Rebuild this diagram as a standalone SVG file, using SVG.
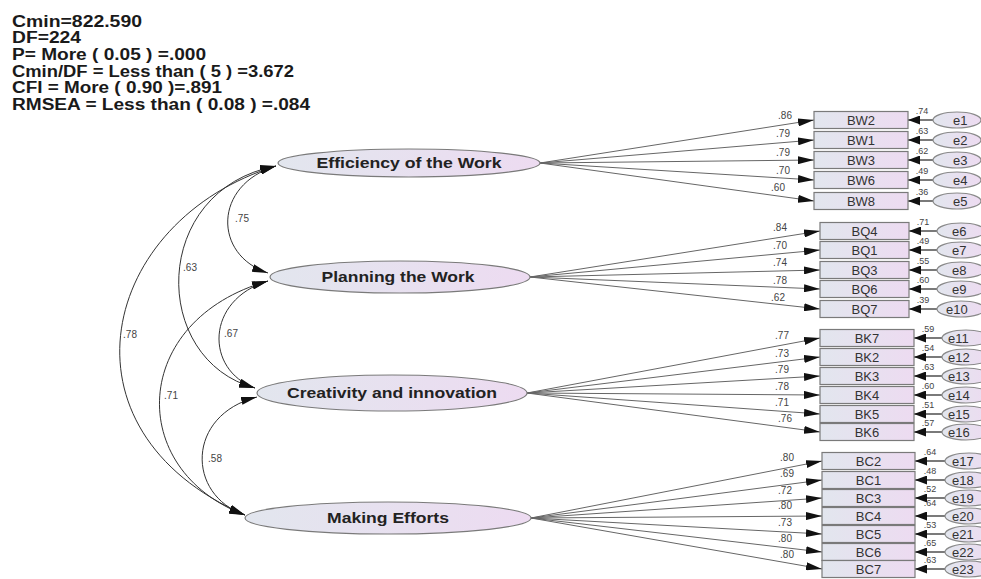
<svg xmlns="http://www.w3.org/2000/svg" width="981" height="579" viewBox="0 0 981 579">
<defs>
<linearGradient id="g" x1="0" y1="0" x2="1" y2="0">
<stop offset="0" stop-color="#e2e6ee"/>
<stop offset="1" stop-color="#eddbf1"/>
</linearGradient>
<marker id="ah" viewBox="0 0 16 8" refX="16" refY="4" markerWidth="16" markerHeight="8" markerUnits="userSpaceOnUse" orient="auto-start-reverse">
<path d="M0,0 L16,4 L0,8 z" fill="#111"/>
</marker>
<marker id="eh" viewBox="0 0 12 9" refX="12" refY="4.5" markerWidth="12" markerHeight="9" markerUnits="userSpaceOnUse" orient="auto">
<path d="M0,0 L12,4.5 L0,9 z" fill="#111"/>
</marker>
<style>
.lat{fill:url(#g);stroke:#7a7a7a;stroke-width:1.2}
.box{fill:url(#g);stroke:#7a7a7a;stroke-width:1.2}
.err{fill:url(#g);stroke:#8a8a8a;stroke-width:1.2}
.lt{font-family:"Liberation Sans",Arial,sans-serif;font-weight:bold;font-size:15px;fill:#222;text-anchor:middle}
.bt{font-family:"Liberation Sans",Arial,sans-serif;font-size:13px;fill:#333;text-anchor:middle}
.et{font-family:"Liberation Sans",Arial,sans-serif;font-size:13px;fill:#333}
.st{font-family:"Liberation Sans",Arial,sans-serif;font-weight:bold;font-size:16px;fill:#1a1a1a}
.lb{font-family:"Liberation Sans",Arial,sans-serif;font-size:10px;fill:#444;text-anchor:middle}
.el{font-family:"Liberation Sans",Arial,sans-serif;font-size:9px;fill:#444;text-anchor:middle}
.fan{stroke:#666;stroke-width:1;fill:none;marker-end:url(#ah)}
.cov{stroke:#333;stroke-width:1;fill:none;marker-start:url(#ah);marker-end:url(#ah)}
.ea{stroke:#222;stroke-width:1.2;fill:none;marker-end:url(#eh)}
</style>
</defs>

<g id="stats">
<text class="st" x="12" y="26.5" textLength="130" lengthAdjust="spacingAndGlyphs">Cmin=822.590</text>
<text class="st" x="12" y="43.2" textLength="69" lengthAdjust="spacingAndGlyphs">DF=224</text>
<text class="st" x="12" y="59.9" textLength="194" lengthAdjust="spacingAndGlyphs">P= More ( 0.05 ) =.000</text>
<text class="st" x="12" y="76.6" textLength="282" lengthAdjust="spacingAndGlyphs">Cmin/DF = Less than ( 5 ) =3.672</text>
<text class="st" x="12" y="93.3" textLength="210" lengthAdjust="spacingAndGlyphs">CFI = More ( 0.90 )=.891</text>
<text class="st" x="12" y="110" textLength="298" lengthAdjust="spacingAndGlyphs">RMSEA = Less than ( 0.08 ) =.084</text>
</g>

<g id="connectors">
<path class="cov" d="M276,166 C213,185 213,255 268,273"/>
<path class="cov" d="M276,166 C150,190 150,360 255,388"/>
<path class="cov" d="M276,166 C100,220 50,430 245,515"/>
<path class="cov" d="M268,281 C205,300 205,370 255,388"/>
<path class="cov" d="M268,281 C130,320 125,470 245,515"/>
<path class="cov" d="M257,397 C186,415 186,495 245,515"/>
<path class="fan" d="M540,163 L814,120"/>
<path class="fan" d="M540,163 L814,140"/>
<path class="fan" d="M540,163 L814,160"/>
<path class="fan" d="M540,163 L814,180"/>
<path class="fan" d="M540,163 L814,201"/>
<path class="fan" d="M530,277 L820,231"/>
<path class="fan" d="M530,277 L820,250"/>
<path class="fan" d="M530,277 L820,270"/>
<path class="fan" d="M530,277 L820,289"/>
<path class="fan" d="M530,277 L820,309"/>
<path class="fan" d="M527,393 L820,338"/>
<path class="fan" d="M527,393 L820,357"/>
<path class="fan" d="M527,393 L820,376"/>
<path class="fan" d="M527,393 L820,395"/>
<path class="fan" d="M527,393 L820,414"/>
<path class="fan" d="M527,393 L820,432"/>
<path class="fan" d="M531,518 L822,461"/>
<path class="fan" d="M531,518 L822,480"/>
<path class="fan" d="M531,518 L822,498"/>
<path class="fan" d="M531,518 L822,516"/>
<path class="fan" d="M531,518 L822,534"/>
<path class="fan" d="M531,518 L822,552"/>
<path class="fan" d="M531,518 L822,569"/>
<path class="ea" d="M933,120 L908,120"/>
<path class="ea" d="M933,140 L908,140"/>
<path class="ea" d="M933,160 L908,160"/>
<path class="ea" d="M933,180 L908,180"/>
<path class="ea" d="M933,201 L908,201"/>
<path class="ea" d="M937,231 L909,231"/>
<path class="ea" d="M937,250 L909,250"/>
<path class="ea" d="M937,270 L909,270"/>
<path class="ea" d="M937,289 L909,289"/>
<path class="ea" d="M937,309 L909,309"/>
<path class="ea" d="M942,338 L914,338"/>
<path class="ea" d="M942,357 L914,357"/>
<path class="ea" d="M942,376 L914,376"/>
<path class="ea" d="M942,395 L914,395"/>
<path class="ea" d="M942,414 L914,414"/>
<path class="ea" d="M942,432 L914,432"/>
<path class="ea" d="M945,461 L915,461"/>
<path class="ea" d="M945,480 L915,480"/>
<path class="ea" d="M945,498 L915,498"/>
<path class="ea" d="M945,516 L915,516"/>
<path class="ea" d="M945,534 L915,534"/>
<path class="ea" d="M945,552 L915,552"/>
<path class="ea" d="M945,569 L915,569"/>
<text class="lb" x="242" y="222">.75</text>
<text class="lb" x="190" y="271">.63</text>
<text class="lb" x="130" y="338">.78</text>
<text class="lb" x="231" y="337">.67</text>
<text class="lb" x="171" y="399">.71</text>
<text class="lb" x="215" y="462">.58</text>
<text class="lb" x="785" y="118.5">.86</text>
<text class="lb" x="783" y="136.5">.79</text>
<text class="lb" x="783" y="155.5">.79</text>
<text class="lb" x="783" y="173.5">.70</text>
<text class="lb" x="778" y="190.5">.60</text>
<text class="lb" x="780" y="230.5">.84</text>
<text class="lb" x="780" y="248.5">.70</text>
<text class="lb" x="780" y="265.5">.74</text>
<text class="lb" x="780" y="283.5">.78</text>
<text class="lb" x="778" y="300.5">.62</text>
<text class="lb" x="782" y="338.5">.77</text>
<text class="lb" x="782" y="356.5">.73</text>
<text class="lb" x="782" y="372.5">.79</text>
<text class="lb" x="782" y="389.5">.78</text>
<text class="lb" x="782" y="405.5">.71</text>
<text class="lb" x="785" y="421.5">.76</text>
<text class="lb" x="787" y="460.5">.80</text>
<text class="lb" x="787" y="476.5">.69</text>
<text class="lb" x="785" y="493.5">.72</text>
<text class="lb" x="785" y="508.5">.80</text>
<text class="lb" x="785" y="525.5">.73</text>
<text class="lb" x="785" y="541.5">.80</text>
<text class="lb" x="787" y="557.5">.80</text>
<text class="el" x="922" y="113.5">.74</text>
<text class="el" x="922" y="133.5">.63</text>
<text class="el" x="922" y="153.5">.62</text>
<text class="el" x="922" y="173.5">.49</text>
<text class="el" x="922" y="194.5">.36</text>
<text class="el" x="923" y="224.5">.71</text>
<text class="el" x="923" y="243.5">.49</text>
<text class="el" x="923" y="263.5">.55</text>
<text class="el" x="923" y="282.5">.60</text>
<text class="el" x="923" y="302.5">.39</text>
<text class="el" x="928" y="331.5">.59</text>
<text class="el" x="928" y="350.5">.54</text>
<text class="el" x="928" y="369.5">.63</text>
<text class="el" x="928" y="388.5">.60</text>
<text class="el" x="928" y="407.5">.51</text>
<text class="el" x="928" y="425.5">.57</text>
<text class="el" x="930" y="454.5">.64</text>
<text class="el" x="930" y="473.5">.48</text>
<text class="el" x="930" y="491.5">.52</text>
<text class="el" x="930" y="506">.64</text>
<text class="el" x="930" y="527.5">.53</text>
<text class="el" x="930" y="545.5">.65</text>
<text class="el" x="930" y="562.5">.63</text>
</g>

<g id="eff">
<ellipse class="lat" cx="409" cy="163" rx="131" ry="14"/>
<text class="lt" x="409" y="168" textLength="185" lengthAdjust="spacingAndGlyphs">Efficiency of the Work</text>
</g>
<g id="plan">
<ellipse class="lat" cx="400" cy="277" rx="130" ry="16"/>
<text class="lt" x="398" y="282" textLength="153" lengthAdjust="spacingAndGlyphs">Planning the Work</text>
</g>
<g id="crea">
<ellipse class="lat" cx="392" cy="393" rx="135" ry="18"/>
<text class="lt" x="392" y="398" textLength="210" lengthAdjust="spacingAndGlyphs">Creativity and innovation</text>
</g>
<g id="make">
<ellipse class="lat" cx="388" cy="518" rx="143" ry="16"/>
<text class="lt" x="388" y="523" textLength="122" lengthAdjust="spacingAndGlyphs">Making Efforts</text>
</g>

<g id="BW2"><rect class="box" x="814" y="111.5" width="94" height="17"/><text class="bt" x="861" y="124.5">BW2</text></g>
<g id="BW1"><rect class="box" x="814" y="131.5" width="94" height="17"/><text class="bt" x="861" y="144.5">BW1</text></g>
<g id="BW3"><rect class="box" x="814" y="151.5" width="94" height="17"/><text class="bt" x="861" y="164.5">BW3</text></g>
<g id="BW6"><rect class="box" x="814" y="171.5" width="94" height="17"/><text class="bt" x="861" y="184.5">BW6</text></g>
<g id="BW8"><rect class="box" x="814" y="192.5" width="94" height="17"/><text class="bt" x="861" y="205.5">BW8</text></g>

<g id="BQ4"><rect class="box" x="820" y="222.5" width="89" height="17"/><text class="bt" x="864.5" y="235.5">BQ4</text></g>
<g id="BQ1"><rect class="box" x="820" y="241.5" width="89" height="17"/><text class="bt" x="864.5" y="254.5">BQ1</text></g>
<g id="BQ3"><rect class="box" x="820" y="261.5" width="89" height="17"/><text class="bt" x="864.5" y="274.5">BQ3</text></g>
<g id="BQ6"><rect class="box" x="820" y="280.5" width="89" height="17"/><text class="bt" x="864.5" y="293.5">BQ6</text></g>
<g id="BQ7"><rect class="box" x="820" y="300.5" width="89" height="17"/><text class="bt" x="864.5" y="313.5">BQ7</text></g>

<g id="BK7"><rect class="box" x="820" y="329.5" width="94" height="17"/><text class="bt" x="867" y="342.5">BK7</text></g>
<g id="BK2"><rect class="box" x="820" y="348.5" width="94" height="17"/><text class="bt" x="867" y="361.5">BK2</text></g>
<g id="BK3"><rect class="box" x="820" y="367.5" width="94" height="17"/><text class="bt" x="867" y="380.5">BK3</text></g>
<g id="BK4"><rect class="box" x="820" y="386.5" width="94" height="17"/><text class="bt" x="867" y="399.5">BK4</text></g>
<g id="BK5"><rect class="box" x="820" y="405.5" width="94" height="17"/><text class="bt" x="867" y="418.5">BK5</text></g>
<g id="BK6"><rect class="box" x="820" y="423.5" width="94" height="17"/><text class="bt" x="867" y="436.5">BK6</text></g>

<g id="BC2"><rect class="box" x="822" y="452.5" width="93" height="17"/><text class="bt" x="868.5" y="465.5">BC2</text></g>
<g id="BC1"><rect class="box" x="822" y="471.5" width="93" height="17"/><text class="bt" x="868.5" y="484.5">BC1</text></g>
<g id="BC3"><rect class="box" x="822" y="489.5" width="93" height="17"/><text class="bt" x="868.5" y="502.5">BC3</text></g>
<g id="BC4"><rect class="box" x="822" y="507.5" width="93" height="17"/><text class="bt" x="868.5" y="520.5">BC4</text></g>
<g id="BC5"><rect class="box" x="822" y="525.5" width="93" height="17"/><text class="bt" x="868.5" y="538.5">BC5</text></g>
<g id="BC6"><rect class="box" x="822" y="543.5" width="93" height="17"/><text class="bt" x="868.5" y="556.5">BC6</text></g>
<g id="BC7"><rect class="box" x="822" y="560.5" width="93" height="17"/><text class="bt" x="868.5" y="573.5">BC7</text></g>

<g id="e1"><ellipse class="err" cx="957" cy="120" rx="24" ry="8"/><text class="et" x="953" y="124.5">e1</text></g>
<g id="e2"><ellipse class="err" cx="957" cy="140" rx="24" ry="8"/><text class="et" x="953" y="144.5">e2</text></g>
<g id="e3"><ellipse class="err" cx="957" cy="160" rx="24" ry="8"/><text class="et" x="953" y="164.5">e3</text></g>
<g id="e4"><ellipse class="err" cx="957" cy="180" rx="24" ry="8"/><text class="et" x="953" y="184.5">e4</text></g>
<g id="e5"><ellipse class="err" cx="957" cy="201" rx="24" ry="8"/><text class="et" x="953" y="205.5">e5</text></g>
<g id="e6"><ellipse class="err" cx="961" cy="231" rx="24" ry="8"/><text class="et" x="952" y="235.5">e6</text></g>
<g id="e7"><ellipse class="err" cx="961" cy="250" rx="24" ry="8"/><text class="et" x="952" y="254.5">e7</text></g>
<g id="e8"><ellipse class="err" cx="961" cy="270" rx="24" ry="8"/><text class="et" x="952" y="274.5">e8</text></g>
<g id="e9"><ellipse class="err" cx="961" cy="289" rx="24" ry="8"/><text class="et" x="952" y="293.5">e9</text></g>
<g id="e10"><ellipse class="err" cx="961" cy="309" rx="24" ry="8"/><text class="et" x="946" y="313.5">e10</text></g>
<g id="e11"><ellipse class="err" cx="966" cy="338" rx="24" ry="8"/><text class="et" x="948" y="342.5">e11</text></g>
<g id="e12"><ellipse class="err" cx="966" cy="357" rx="24" ry="8"/><text class="et" x="948" y="361.5">e12</text></g>
<g id="e13"><ellipse class="err" cx="966" cy="376" rx="24" ry="8"/><text class="et" x="948" y="380.5">e13</text></g>
<g id="e14"><ellipse class="err" cx="966" cy="395" rx="24" ry="8"/><text class="et" x="948" y="399.5">e14</text></g>
<g id="e15"><ellipse class="err" cx="966" cy="414" rx="24" ry="8"/><text class="et" x="948" y="418.5">e15</text></g>
<g id="e16"><ellipse class="err" cx="966" cy="432" rx="24" ry="8"/><text class="et" x="948" y="436.5">e16</text></g>
<g id="e17"><ellipse class="err" cx="969" cy="461" rx="24" ry="8"/><text class="et" x="952" y="465.5">e17</text></g>
<g id="e18"><ellipse class="err" cx="969" cy="480" rx="24" ry="8"/><text class="et" x="952" y="484.5">e18</text></g>
<g id="e19"><ellipse class="err" cx="969" cy="498" rx="24" ry="8"/><text class="et" x="952" y="502.5">e19</text></g>
<g id="e20"><ellipse class="err" cx="969" cy="516" rx="24" ry="8"/><text class="et" x="952" y="520.5">e20</text></g>
<g id="e21"><ellipse class="err" cx="969" cy="534" rx="24" ry="8"/><text class="et" x="952" y="538.5">e21</text></g>
<g id="e22"><ellipse class="err" cx="969" cy="552" rx="24" ry="8"/><text class="et" x="952" y="556.5">e22</text></g>
<g id="e23"><ellipse class="err" cx="969" cy="569" rx="24" ry="8"/><text class="et" x="952" y="573.5">e23</text></g>
</svg>
